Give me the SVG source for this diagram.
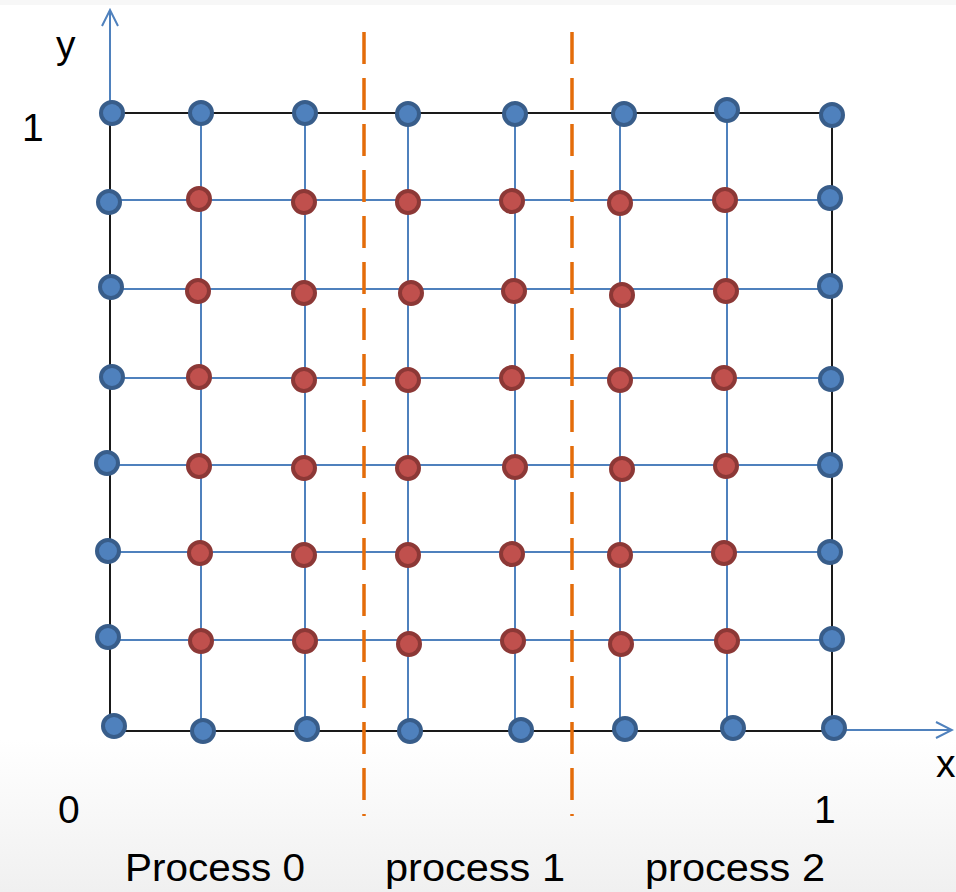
<svg xmlns="http://www.w3.org/2000/svg" width="956" height="892" viewBox="0 0 956 892">
<defs>
<linearGradient id="bg" x1="0" y1="0" x2="0" y2="1">
<stop offset="0" stop-color="#ffffff"/>
<stop offset="1" stop-color="#f0f0f0"/>
</linearGradient>
<marker id="arr" viewBox="0 0 20 20" refX="18" refY="10" markerWidth="20" markerHeight="20" markerUnits="userSpaceOnUse" orient="auto">
<path d="M2,2 L18,10 L2,18" fill="none" stroke="#4f81bd" stroke-width="2"/>
</marker>
<style>
.g{stroke:#4f81bd;stroke-width:2;fill:none}
.b{stroke:#1a1a1a;stroke-width:2;fill:none}
.d{stroke:#e46c0a;stroke-width:3.5;fill:none;stroke-dasharray:32 14}
.ax{stroke:#4f81bd;stroke-width:2;fill:none}
.nb{fill:#4f81bd;stroke:#385d8a;stroke-width:4}
.nr{fill:#c0504d;stroke:#8c3836;stroke-width:4}
text{font-family:"Liberation Sans",Arial,sans-serif;fill:#000}
</style>
</defs>
<rect width="956" height="892" fill="#fff"/>
<rect x="0" y="0" width="956" height="5" fill="#f7f7f7"/>
<rect x="0" y="740" width="956" height="152" fill="url(#bg)"/>
<g id="connectors">
<g id="grid">
<path class="g" d="M201,113V731M305,113V731M408,113V731M515,113V731M620,113V731M727,113V731"/>
<path class="g" d="M110,200H832M110,289H832M110,378H832M110,465H832M110,552H832M110,640H832"/>
<path class="b" d="M110,113H832V731H110Z"/>
</g>
<line id="y-axis" class="ax" x1="110" y1="113" x2="110" y2="10" marker-end="url(#arr)"/>
<line id="x-axis" class="ax" x1="834" y1="730" x2="952" y2="730" marker-end="url(#arr)"/>
<line id="split-1" class="d" x1="364" y1="32" x2="364" y2="816"/>
<line id="split-2" class="d" x1="572" y1="32" x2="572" y2="816"/>
</g>
<g id="boundary-nodes">
<circle class="nb" cx="112" cy="113" r="11"/><circle class="nb" cx="201" cy="113" r="11"/><circle class="nb" cx="305" cy="113" r="11"/><circle class="nb" cx="408" cy="114" r="11"/><circle class="nb" cx="515" cy="114" r="11"/><circle class="nb" cx="624" cy="114" r="11"/><circle class="nb" cx="727" cy="110" r="11"/><circle class="nb" cx="832" cy="115" r="11"/>
<circle class="nb" cx="109" cy="202" r="11"/><circle class="nb" cx="830" cy="198" r="11"/>
<circle class="nb" cx="111" cy="287" r="11"/><circle class="nb" cx="830" cy="286" r="11"/>
<circle class="nb" cx="112" cy="377" r="11"/><circle class="nb" cx="831" cy="379" r="11"/>
<circle class="nb" cx="107" cy="463" r="11"/><circle class="nb" cx="830" cy="465" r="11"/>
<circle class="nb" cx="108" cy="551" r="11"/><circle class="nb" cx="830" cy="552" r="11"/>
<circle class="nb" cx="108" cy="637" r="11"/><circle class="nb" cx="832" cy="639" r="11"/>
<circle class="nb" cx="114" cy="726" r="11"/><circle class="nb" cx="203" cy="731" r="11"/><circle class="nb" cx="307" cy="729" r="11"/><circle class="nb" cx="410" cy="731" r="11"/><circle class="nb" cx="521" cy="730" r="11"/><circle class="nb" cx="625" cy="729" r="11"/><circle class="nb" cx="733" cy="728" r="11"/><circle class="nb" cx="834" cy="728" r="11"/>
</g>
<g id="interior-nodes">
<circle class="nr" cx="199" cy="199" r="11"/><circle class="nr" cx="304" cy="202" r="11"/><circle class="nr" cx="408" cy="202" r="11"/><circle class="nr" cx="512" cy="201" r="11"/><circle class="nr" cx="620" cy="203" r="11"/><circle class="nr" cx="725" cy="200" r="11"/>
<circle class="nr" cx="198" cy="291" r="11"/><circle class="nr" cx="304" cy="293" r="11"/><circle class="nr" cx="411" cy="293" r="11"/><circle class="nr" cx="514" cy="291" r="11"/><circle class="nr" cx="622" cy="295" r="11"/><circle class="nr" cx="726" cy="291" r="11"/>
<circle class="nr" cx="199" cy="377" r="11"/><circle class="nr" cx="304" cy="380" r="11"/><circle class="nr" cx="408" cy="380" r="11"/><circle class="nr" cx="512" cy="378" r="11"/><circle class="nr" cx="620" cy="380" r="11"/><circle class="nr" cx="724" cy="378" r="11"/>
<circle class="nr" cx="199" cy="466" r="11"/><circle class="nr" cx="304" cy="468" r="11"/><circle class="nr" cx="408" cy="468" r="11"/><circle class="nr" cx="515" cy="467" r="11"/><circle class="nr" cx="622" cy="469" r="11"/><circle class="nr" cx="726" cy="466" r="11"/>
<circle class="nr" cx="200" cy="553" r="11"/><circle class="nr" cx="304" cy="555" r="11"/><circle class="nr" cx="408" cy="555" r="11"/><circle class="nr" cx="512" cy="554" r="11"/><circle class="nr" cx="620" cy="555" r="11"/><circle class="nr" cx="724" cy="553" r="11"/>
<circle class="nr" cx="201" cy="641" r="11"/><circle class="nr" cx="305" cy="641" r="11"/><circle class="nr" cx="409" cy="644" r="11"/><circle class="nr" cx="513" cy="641" r="11"/><circle class="nr" cx="621" cy="644" r="11"/><circle class="nr" cx="727" cy="641" r="11"/>
</g>
<g id="labels" font-size="39">
<text x="56" y="58">y</text>
<text x="22" y="141">1</text>
<text x="936" y="777">x</text>
<text x="58" y="823">0</text>
<text x="814" y="823">1</text>
<text x="125" y="881" textLength="180" lengthAdjust="spacingAndGlyphs">Process 0</text>
<text x="385" y="881" textLength="180" lengthAdjust="spacingAndGlyphs">process 1</text>
<text x="645" y="881" textLength="180" lengthAdjust="spacingAndGlyphs">process 2</text>
</g>
</svg>
